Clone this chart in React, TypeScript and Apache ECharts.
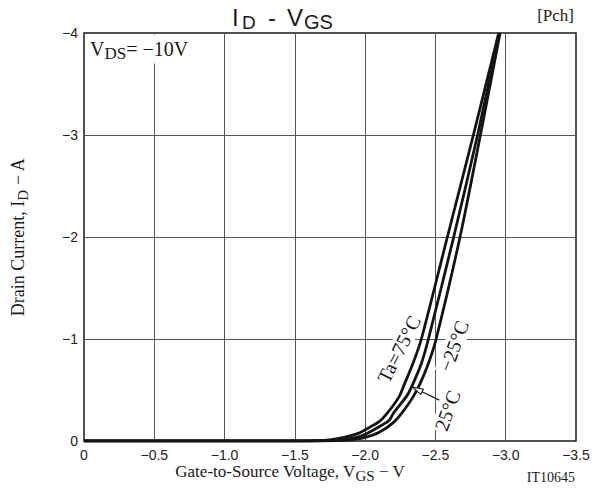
import React, { useEffect, useRef } from 'react';
import * as echarts from 'echarts';

// Gate-to-source voltage (V) and drain current (A) for each ambient temperature
const vgs75 = [0, -1.5, -1.65, -1.75, -1.85, -1.95, -2.0, -2.1, -2.15, -2.24, -2.28, -2.34, -2.4, -2.585, -2.77, -2.95];
const id75 = [0, 0, -0.003, -0.012, -0.035, -0.075, -0.11, -0.19, -0.26, -0.43, -0.56, -0.76, -1.0, -2.0, -3.0, -4.0];

const vgs25 = [0, -1.6, -1.75, -1.85, -1.95, -2.0, -2.1, -2.17, -2.2, -2.3, -2.34, -2.4, -2.45, -2.63, -2.8, -2.955];
const id25 = [0, 0, -0.004, -0.015, -0.04, -0.065, -0.14, -0.2, -0.27, -0.45, -0.56, -0.76, -1.0, -2.0, -3.0, -4.0];

const vgsM25 = [0, -1.65, -1.8, -1.9, -2.0, -2.1, -2.2, -2.27, -2.34, -2.39, -2.45, -2.505, -2.675, -2.82, -2.96];
const idM25 = [0, 0, -0.003, -0.012, -0.035, -0.085, -0.18, -0.29, -0.43, -0.56, -0.76, -1.0, -2.0, -3.0, -4.0];

const X_TICKS = [0, -0.5, -1.0, -1.5, -2.0, -2.5, -3.0, -3.5];
const X_TICK_LABELS = ['0', '−0.5', '−1.0', '−1.5', '−2.0', '−2.5', '−3.0', '−3.5'];
const Y_TICKS = [0, -1, -2, -3, -4];
const Y_TICK_LABELS = ['0', '−1', '−2', '−3', '−4'];

// Annotation anchors in data coordinates [VGS, ID]
const LABEL_TA75 = [-2.24, -0.9];
const LABEL_M25 = [-2.63, -0.93];
const LABEL_25 = [-2.585, -0.3];
const ARROW_TAIL = [-2.527, -0.4];
const ARROW_TIP = [-2.335, -0.53];

const SERIF = '"Liberation Serif", "Times New Roman", serif';
const SANS = '"Liberation Sans", Arial, sans-serif';

const pick = (ticks: number[], labels: string[]) => (v: number) => {
  const i = ticks.findIndex((t) => Math.abs(t - v) < 1e-6);
  return i >= 0 ? labels[i] : '';
};

const toPairs = (xs: number[], ys: number[]) => xs.map((x, i) => [x, ys[i]]);

export default function App() {
  const ref = useRef<HTMLDivElement>(null);
  useEffect(() => {
    if (!ref.current) return;
    const chart = echarts.init(ref.current, undefined, { renderer: 'svg' });
    const lineSeries = (name: string, data: number[][]) => ({
      name,
      type: 'line',
      data,
      showSymbol: false,
      smooth: 0.25,
      lineStyle: { color: '#141414', width: 2.8 },
      itemStyle: { color: '#141414' },
      z: 3,
    });
    chart.setOption({
      animation: false,
      backgroundColor: '#ffffff',
      grid: {
        left: 84, right: 29, top: 33, bottom: 51,
        show: true, borderColor: '#1a1a1a', borderWidth: 1.5, backgroundColor: 'transparent',
      },
      xAxis: {
        type: 'value', min: -3.5, max: 0, interval: 0.5, inverse: true,
        axisLine: { show: false }, axisTick: { show: false },
        splitLine: { show: true, showMinLine: false, showMaxLine: false, lineStyle: { color: '#555', width: 1 } },
        axisLabel: { formatter: pick(X_TICKS, X_TICK_LABELS), fontFamily: SANS, fontSize: 14, color: '#222', margin: 7 },
      },
      yAxis: {
        type: 'value', min: -4, max: 0, interval: 1, inverse: true,
        axisLine: { show: false }, axisTick: { show: false },
        splitLine: { show: true, showMinLine: false, showMaxLine: false, lineStyle: { color: '#555', width: 1 } },
        axisLabel: { formatter: pick(Y_TICKS, Y_TICK_LABELS), fontFamily: SANS, fontSize: 14, color: '#222', margin: 6 },
      },
      series: [
        lineSeries('Ta=75°C', toPairs(vgs75, id75)),
        lineSeries('25°C', toPairs(vgs25, id25)),
        lineSeries('−25°C', toPairs(vgsM25, idM25)),
      ],
    });

    const px = (p: number[]) => chart.convertToPixel({ gridIndex: 0 }, p) as number[];
    const deg = (d: number) => (d * Math.PI) / 180;
    const pTa = px(LABEL_TA75);
    const pM25 = px(LABEL_M25);
    const p25 = px(LABEL_25);
    const tail = px(ARROW_TAIL);
    const tip = px(ARROW_TIP);
    const dx = tip[0] - tail[0];
    const dy = tip[1] - tail[1];
    const len = Math.hypot(dx, dy);
    const ux = dx / len, uy = dy / len;
    const hl = 11, hw = 3;
    const base = [tip[0] - ux * hl, tip[1] - uy * hl];
    const head = [
      [tip[0], tip[1]],
      [base[0] - uy * hw, base[1] + ux * hw],
      [base[0] + uy * hw, base[1] - ux * hw],
    ];

    const curveLabel = (text: string, p: number[], rot: number) => ({
      type: 'text', x: p[0], y: p[1], rotation: deg(rot), z: 1,
      style: {
        text, align: 'center', verticalAlign: 'middle',
        fontFamily: SERIF, fontSize: 20, fill: '#1a1a1a',
        backgroundColor: '#ffffff', padding: [0, 2],
      },
    });

    chart.setOption({
      graphic: [
        { type: 'text', x: 232, y: 17, z: 5, style: { text: 'I', fontFamily: SANS, fontSize: 24, fill: '#1a1a1a', align: 'left', verticalAlign: 'middle' } },
        { type: 'text', x: 242, y: 22, z: 5, style: { text: 'D', fontFamily: SANS, fontSize: 19, fill: '#1a1a1a', align: 'left', verticalAlign: 'middle' } },
        { type: 'text', x: 272, y: 17, z: 5, style: { text: '-', fontFamily: SANS, fontSize: 24, fill: '#1a1a1a', align: 'center', verticalAlign: 'middle' } },
        { type: 'text', x: 287, y: 17, z: 5, style: { text: 'V', fontFamily: SANS, fontSize: 24, fill: '#1a1a1a', align: 'left', verticalAlign: 'middle' } },
        { type: 'text', x: 304, y: 22, z: 5, style: { text: 'GS', fontFamily: SANS, fontSize: 20, fill: '#1a1a1a', align: 'left', verticalAlign: 'middle' } },
        { type: 'text', x: 574, y: 15, z: 5, style: { text: '[Pch]', fontFamily: SERIF, fontSize: 17, fill: '#1a1a1a', align: 'right', verticalAlign: 'middle' } },
        {
          type: 'text', x: 18, y: 237, rotation: deg(90), z: 5,
          style: {
            text: '{m|Drain Current, I}{s|D}{m| − A}', align: 'center', verticalAlign: 'middle',
            rich: {
              m: { fontFamily: SERIF, fontSize: 18, fill: '#1a1a1a' },
              s: { fontFamily: SERIF, fontSize: 15, fill: '#1a1a1a', padding: [9, 0, 0, 0] },
            },
          },
        },
        {
          type: 'text', x: 290, y: 471, z: 5,
          style: {
            text: '{m|Gate-to-Source Voltage, V}{s|GS}{m| − V}', align: 'center', verticalAlign: 'middle',
            rich: {
              m: { fontFamily: SERIF, fontSize: 17, fill: '#1a1a1a' },
              s: { fontFamily: SERIF, fontSize: 15, fill: '#1a1a1a', padding: [9, 0, 0, 0] },
            },
          },
        },
        { type: 'text', x: 575, y: 477, z: 5, style: { text: 'IT10645', fontFamily: SERIF, fontSize: 14, fill: '#1a1a1a', align: 'right', verticalAlign: 'middle' } },
        {
          type: 'text', x: 89, y: 49, z: 1,
          style: {
            text: '{m|V}{s|DS}{m|= −10V}', align: 'left', verticalAlign: 'middle',
            backgroundColor: '#ffffff', padding: [2, 3, 2, 1],
            rich: {
              m: { fontFamily: SERIF, fontSize: 20, fill: '#1a1a1a' },
              s: { fontFamily: SERIF, fontSize: 17, fill: '#1a1a1a', padding: [8, 0, 0, 0] },
            },
          },
        },
        curveLabel('Ta=75°C', pTa, 63),
        curveLabel('−25°C', pM25, 70),
        curveLabel('25°C', p25, 70),
        { type: 'line', z: 4, shape: { x1: tail[0], y1: tail[1], x2: base[0], y2: base[1] }, style: { stroke: '#1a1a1a', lineWidth: 1.3 } },
        { type: 'polygon', z: 4, shape: { points: head }, style: { fill: '#ffffff', stroke: '#1a1a1a', lineWidth: 1.1 } },
      ],
    });
    return () => chart.dispose();
  }, []);
  return (
    <div
      ref={ref}
      style={{ position: 'absolute', left: 0, top: 0, width: 605, height: 492, background: '#fff' }}
    />
  );
}
